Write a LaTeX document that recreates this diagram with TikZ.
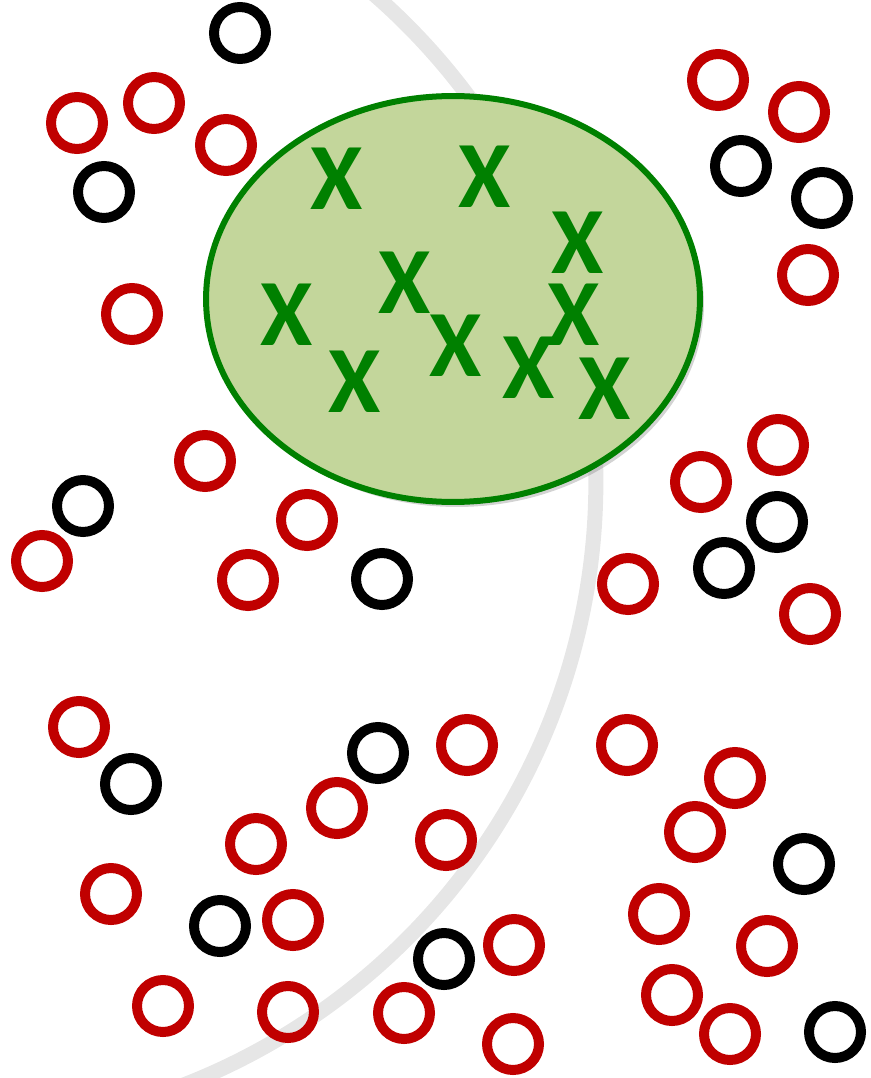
\documentclass[tikz,border=0pt]{standalone}
\usepackage{fontspec}
\newfontfamily\kreuzfont{Carlito}
\usetikzlibrary{shapes.geometric, shadows}
\definecolor{ringrot}{RGB}{192,0,0}
\definecolor{mengegruen}{RGB}{0,128,0}
\definecolor{mengefuell}{RGB}{195,214,155}
\definecolor{bogengrau}{RGB}{230,230,230}
\tikzset{
    ring/.style={line width=0.2cm},
    roterring/.style={ring, draw=ringrot},
    schwarzerring/.style={ring, draw=black},
    menge/.style={ellipse, draw=mengegruen, line width=0.12cm, fill=mengefuell,
        minimum width=9.88cm, minimum height=8.12cm,
        drop shadow={shadow xshift=0.08cm, shadow yshift=-0.1cm, opacity=0.35}},
    kreuz/.style={text=mengegruen, inner sep=0pt,
        font=\kreuzfont\bfseries\fontsize{54}{54}\selectfont}
}

\begin{document}
\begin{tikzpicture}[x=0.02cm, y=-0.02cm]

% Rahmen
\useasboundingbox (0,0) rectangle (871,1078);

% Bogen im Hintergrund
\begin{scope}
\clip (0,0) rectangle (871,1078);
\draw[bogengrau, line width=0.3cm] (-51,482) circle[radius=12.94cm];
\end{scope}

% rote Kreise
\foreach \x/\y in {77/123, 154/103, 226/145, 718/80, 799/112, 808/275,
    132/314, 205/461, 307/520, 42/561, 248/580, 701/482, 778/445, 628/584,
    810/614, 79/727, 467/745, 627/745, 735/778, 337/808, 256/844, 446/840,
    695/832, 111/894, 293/920, 659/914, 767/946, 514/945, 163/1006,
    288/1012, 404/1013, 672/995, 730/1034, 513/1044}
    \draw[roterring] (\x,\y) circle[radius=0.52cm];

% schwarze Kreise
\foreach \x/\y in {240/33, 104/192, 741/166, 822/198, 83/506, 382/579,
    777/522, 724/568, 378/753, 131/784, 804/864, 220/926, 444/959, 835/1032}
    \draw[schwarzerring] (\x,\y) circle[radius=0.52cm];

% Menge mit Kreuzen
\node[menge] (M) at (453,299) {};
\node[kreuz] (x1) at (337,179) {X};
\node[kreuz] (x2) at (485,177) {X};
\node[kreuz] (x3) at (578,243) {X};
\node[kreuz] (x4) at (405,283) {X};
\node[kreuz] (x5) at (287,315) {X};
\node[kreuz] (x6) at (574,315) {X};
\node[kreuz] (x7) at (456,346) {X};
\node[kreuz] (x8) at (355,382) {X};
\node[kreuz] (x9) at (529,368) {X};
\node[kreuz] (x10) at (605,389) {X};

\end{tikzpicture}
\end{document}
